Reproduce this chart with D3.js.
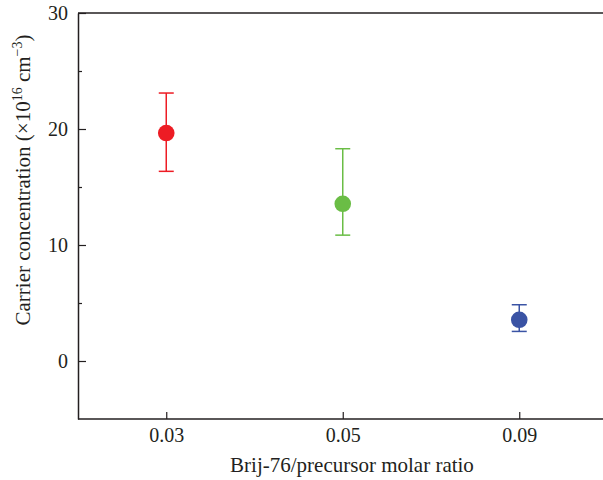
<!DOCTYPE html>
<html>
<head>
<meta charset="utf-8">
<script src="https://cdn.jsdelivr.net/npm/d3@7"></script>
<style>
  html, body { margin: 0; padding: 0; background: #fff; }
  svg { display: block; }
  text { font-family: "Liberation Serif", "DejaVu Serif", serif; fill: #231f20; }
</style>
</head>
<body>
<svg id="chart" width="603" height="480"></svg>
<script>
const categories = ["0.03", "0.05", "0.09"];
const values = [19.65, 13.55, 3.55];
const errLow = [16.35, 10.85, 2.55];
const errHigh = [23.1, 18.3, 4.85];
const colors = ["#ed1c24", "#6abd45", "#3a53a4"];
const yMajorTicks = [0, 10, 20, 30];
const yMinorTicks = [5, 15, 25];

const svg = d3.select("#chart");
const mLeft = 78, mTop = 13, mBottom = 419, mRight = 607.5;

const x = d3.scalePoint().domain(categories).range([mLeft, mRight]).padding(0.5);
const y = d3.scaleLinear().domain([-5, 30]).range([mBottom, mTop]);

const axisColor = "#231f20";

// top border
svg.append("line").attr("x1", mLeft).attr("x2", 603).attr("y1", mTop).attr("y2", mTop)
  .attr("stroke", axisColor).attr("stroke-width", 1.5);

// y axis
const yAxis = svg.append("g").attr("transform", `translate(${mLeft},0)`)
  .call(d3.axisLeft(y).tickValues(yMajorTicks).tickSize(-8).tickSizeOuter(0).tickPadding(10));
yAxis.select(".domain").attr("stroke", axisColor).attr("stroke-width", 1.5);
yAxis.selectAll(".tick line").attr("stroke", axisColor).attr("stroke-width", 1.2);
yAxis.selectAll(".tick text").attr("font-size", 20).attr("font-family", "Liberation Serif").attr("fill", axisColor);
const yMinor = svg.append("g").attr("transform", `translate(${mLeft},0)`)
  .call(d3.axisLeft(y).tickValues(yMinorTicks).tickSize(-4).tickSizeOuter(0).tickFormat(""));
yMinor.select(".domain").remove();
yMinor.selectAll(".tick line").attr("stroke", axisColor).attr("stroke-width", 1.2);

// x axis
const xAxis = svg.append("g").attr("transform", `translate(0,${mBottom})`)
  .call(d3.axisBottom(x).tickSize(-7).tickSizeOuter(0).tickPadding(9));
xAxis.select(".domain").attr("d", `M${mLeft},0H603`).attr("stroke", axisColor).attr("stroke-width", 1.5);
xAxis.selectAll(".tick line").attr("stroke", axisColor).attr("stroke-width", 1.2);
xAxis.selectAll(".tick text").attr("font-size", 20).attr("font-family", "Liberation Serif").attr("fill", axisColor);

// axis titles
svg.append("text").attr("x", 352).attr("y", 472).attr("text-anchor", "middle")
  .attr("font-size", 21).text("Brij-76/precursor molar ratio");

const yt = svg.append("text").attr("transform", "translate(30,180) rotate(-90)")
  .attr("text-anchor", "middle").attr("font-size", 21);
yt.append("tspan").text("Carrier concentration (×10");
yt.append("tspan").attr("font-size", 14).attr("dy", -8).text("16");
yt.append("tspan").attr("dy", 8).text(" cm");
yt.append("tspan").attr("font-size", 14).attr("dy", -8).text("−3");
yt.append("tspan").attr("dy", 8).text(")");

// error bars and points
const data = categories.map((c, i) => ({c, v: values[i], lo: errLow[i], hi: errHigh[i], col: colors[i]}));
const g = svg.append("g");
const capW = 7.5;
data.forEach(d => {
  const cx = x(d.c);
  g.append("line").attr("x1", cx).attr("x2", cx).attr("y1", y(d.lo)).attr("y2", y(d.hi))
    .attr("stroke", d.col).attr("stroke-width", 1.5);
  [d.lo, d.hi].forEach(e => {
    g.append("line").attr("x1", cx - capW).attr("x2", cx + capW).attr("y1", y(e)).attr("y2", y(e))
      .attr("stroke", d.col).attr("stroke-width", 1.5);
  });
  g.append("circle").attr("cx", cx).attr("cy", y(d.v)).attr("r", 8.3).attr("fill", d.col);
});
</script>
</body>
</html>
